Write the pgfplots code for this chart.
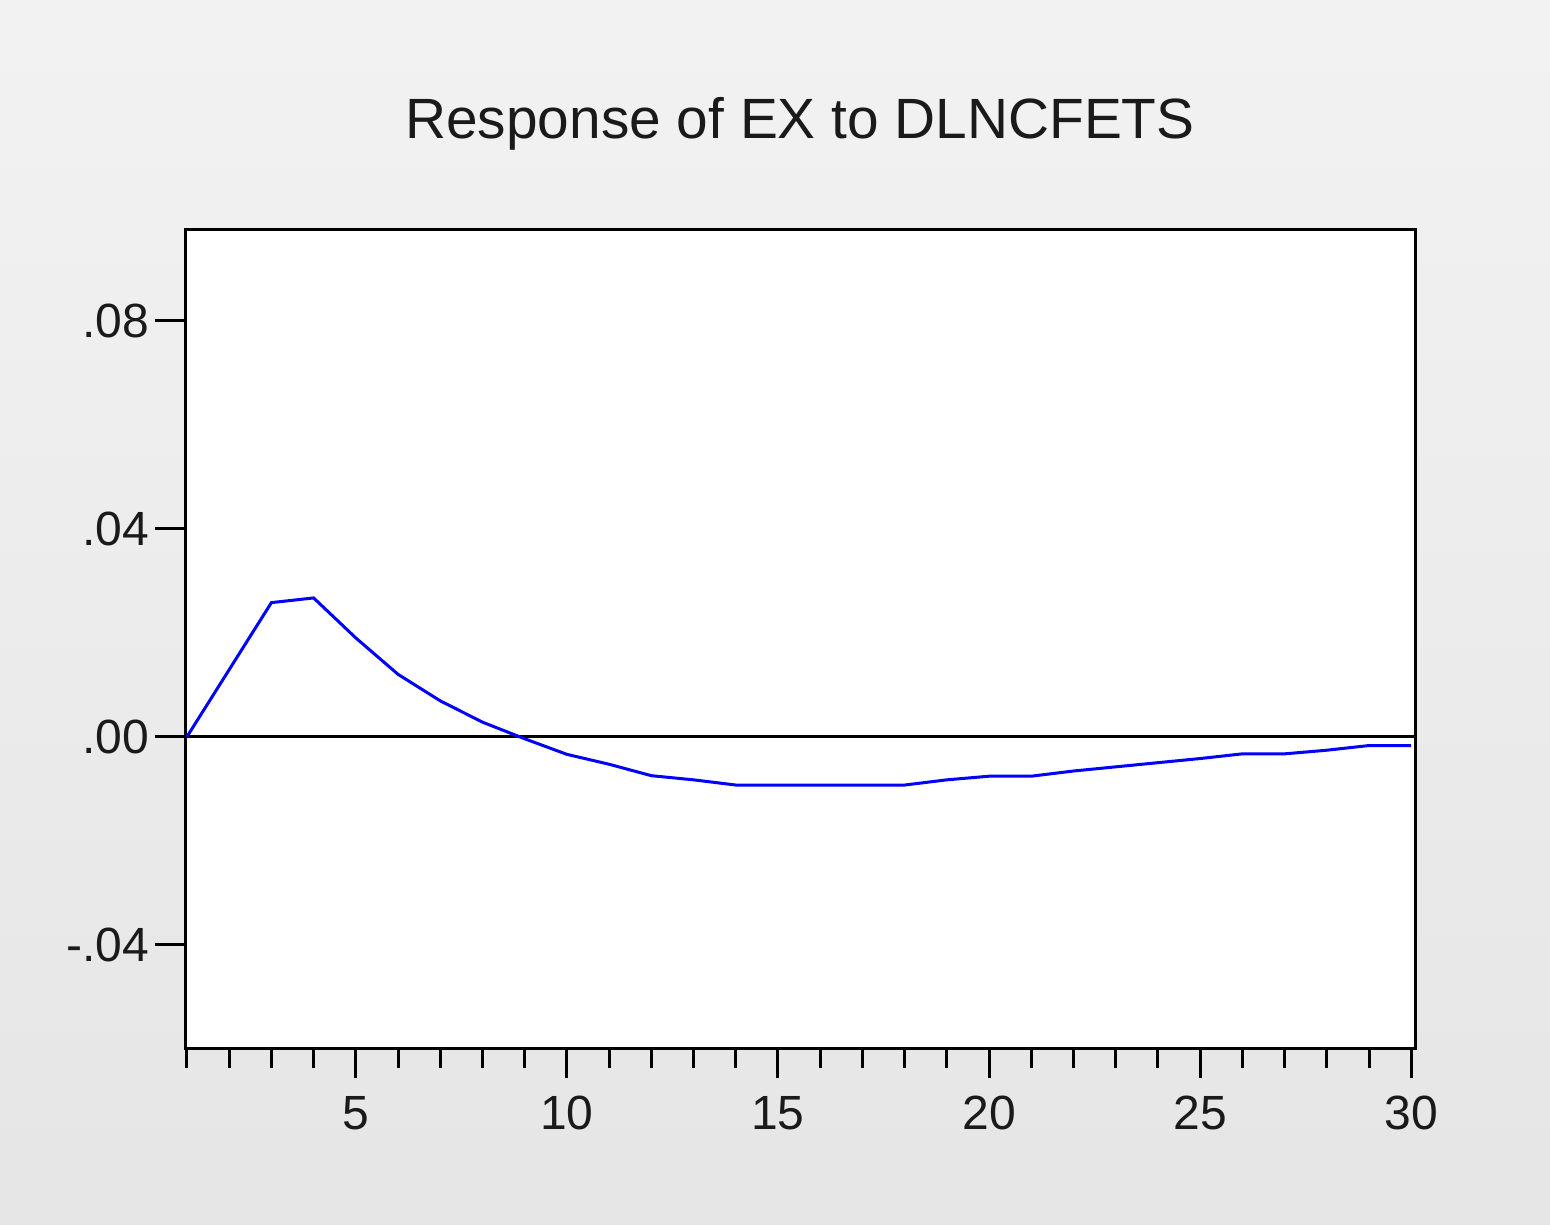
\documentclass[border=0pt]{standalone}
\usepackage{pgfplots}
\pgfplotsset{compat=1.18}
\usepackage{fontspec}
\setmainfont{Liberation Sans}
\definecolor{txt}{HTML}{1A1A1A}
\begin{document}
\begin{tikzpicture}[x=1pt,y=1pt]
% background (1 px = 0.25 pt); axis lower-left at (0,0)
\shade[top color=black!5, bottom color=black!10] (-46.25,-44) rectangle (341.25,262);
\useasboundingbox (-46.25,-44) rectangle (341.25,262);
\begin{axis}[
  at={(0,0)}, anchor=south west,
  scale only axis, width=307.5pt, height=204.5pt,
  xmin=0.953, xmax=30.09, ymin=-0.0599, ymax=0.0975,
  axis background/.style={fill=white},
  axis line style={black, line width=0.75pt},
  xtick={5,10,15,20,25,30},
  minor xtick={1,...,30},
  ytick={-0.04,0,0.04,0.08},
  yticklabels={-.04,.00,.04,.08},
  scaled y ticks=false,
  xtick pos=bottom, ytick pos=left,
  tick align=outside,
  major tick length=7.5pt, minor tick length=5pt,
  tick style={black, line width=0.75pt},
  minor tick style={black, line width=0.75pt},
  /pgf/number format/assume math mode=true,
  tick label style={font=\fontsize{12}{14}\selectfont, text=txt},
  xticklabel style={yshift=-1pt},
  yticklabel style={xshift=2pt},
  clip=false,
]
\addplot[black, line width=0.75pt, forget plot] coordinates {(0.953,0) (30.09,0)};
\addplot[blue, line width=0.75pt] coordinates {
(1,0) (2,0.0129) (3,0.0258) (4,0.0267) (5,0.0190) (6,0.0120) (7,0.0069)
(8,0.0028) (9,-0.0004) (10,-0.0034) (11,-0.0053) (12,-0.0075) (13,-0.0083)
(14,-0.0093) (15,-0.0093) (16,-0.0093) (17,-0.0093) (18,-0.0093) (19,-0.0083)
(20,-0.0076) (21,-0.0076) (22,-0.0066) (23,-0.0058) (24,-0.0050) (25,-0.0042)
(26,-0.0033) (27,-0.0033) (28,-0.0026) (29,-0.0017) (30,-0.0017)
};
\end{axis}
\node[text=txt, font=\fontsize{14.2}{17}\selectfont] at (153.75,231) {Response of EX to DLNCFETS};
\end{tikzpicture}
\end{document}
